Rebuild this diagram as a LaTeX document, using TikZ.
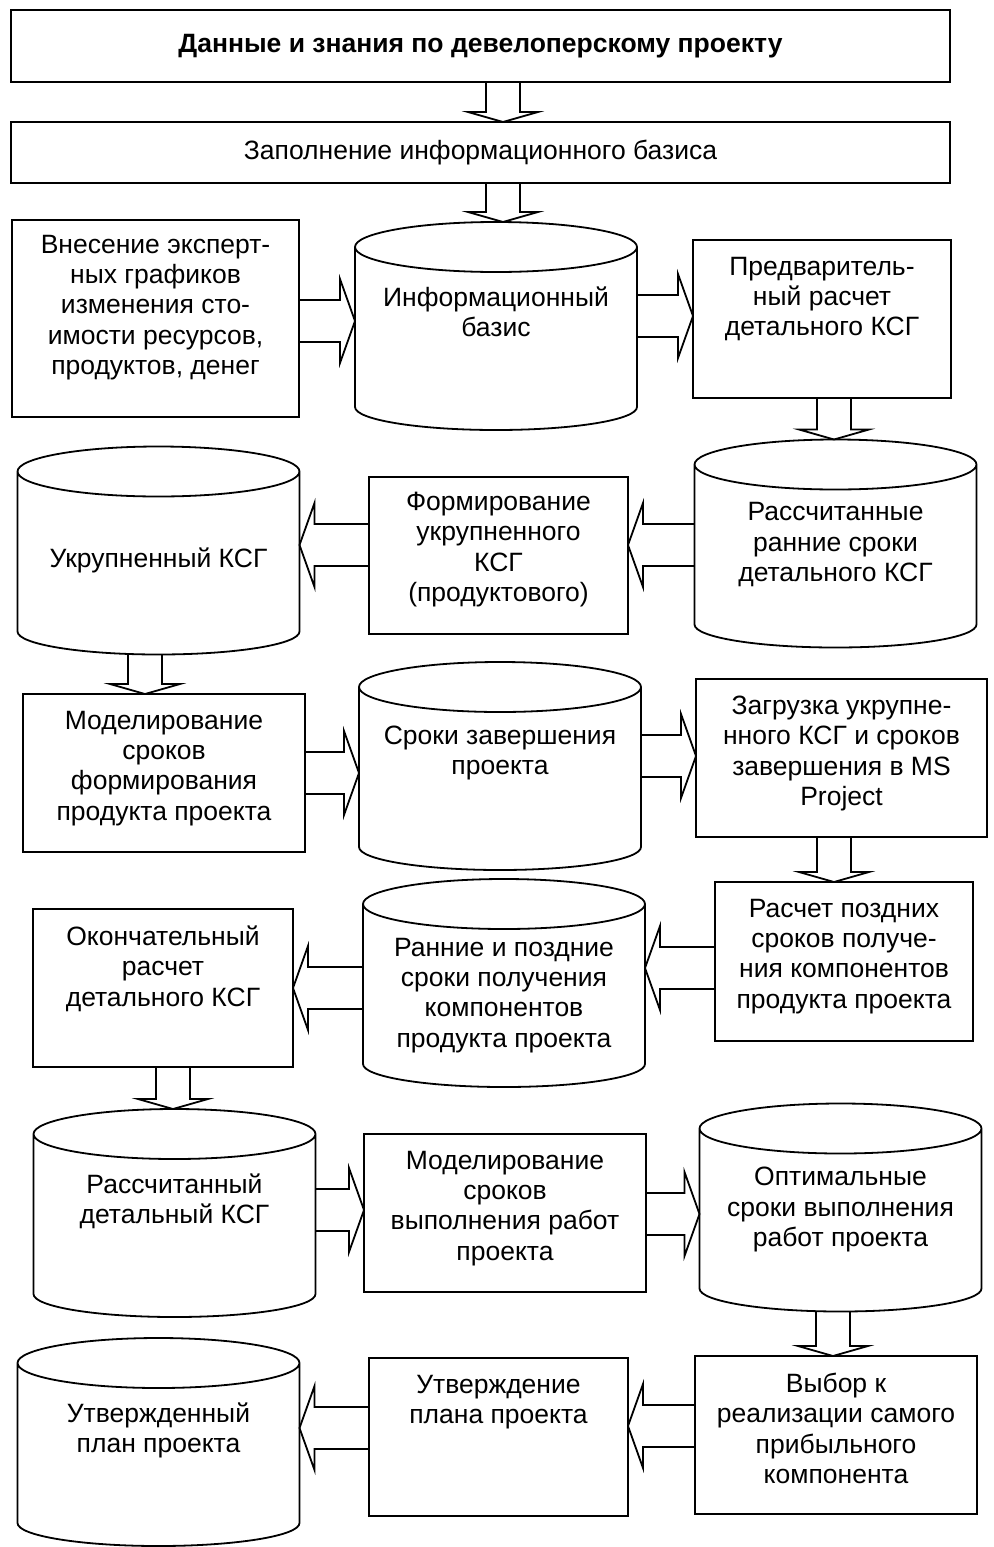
\documentclass[tikz,border=0pt]{standalone}
\usepackage{fontspec}
\setmainfont{Liberation Sans}
\usetikzlibrary{positioning,calc}

\begin{document}
\begin{tikzpicture}[x=0.5pt,y=-0.5pt,line width=0.9pt,
  every node/.style={font=\fontsize{13.25pt}{15.2pt}\selectfont},
  box/.style={draw,inner sep=0pt,outer sep=0pt},
  store/.style={inner sep=0pt,outer sep=0pt,minimum width=141pt,minimum height=104pt},
  txt/.style={align=center,inner sep=0pt},
  fat/.style n args={3}{to path={let \p1=(\tikztostart), \p2=(\tikztotarget),
    \p3=($(\p2)!#3!(\p1)$) in
    ($(\p1)!#1!90:(\p2)$) -- ($(\p3)!#1!-90:(\p1)$) -- ($(\p3)!#2!-90:(\p1)$) -- (\p2)
    -- ($(\p3)!#2!90:(\p1)$) -- ($(\p3)!#1!90:(\p1)$) -- ($(\p1)!#1!-90:(\p2)$)}},
  harr/.style={draw,fat={10.5pt}{21pt}{7.5pt}},
  varr/.style={draw,fat={8.5pt}{17.5pt}{5pt}}]
\useasboundingbox (0,0) rectangle (993,1547);

% boxes
\node[box,minimum width=469.5pt,minimum height=36pt] (b1) at (480.5,46) {\textbf{Данные и знания по девелоперскому проекту}};
\node[box,minimum width=469.5pt,minimum height=30.5pt] (b2) at (480.5,152.5) {Заполнение информационного базиса};
\node[box,minimum width=143.5pt,minimum height=98.5pt] (b3) at (155.5,318.5) {};
\node[box,minimum width=129pt,minimum height=79pt] (b4) at (822,319) {};
\node[box,minimum width=129.5pt,minimum height=78.5pt] (b5) at (498.5,555.5) {};
\node[box,minimum width=141pt,minimum height=79pt] (b6) at (164,773) {};
\node[box,minimum width=145.5pt,minimum height=79pt] (b7) at (841.5,758) {};
\node[box,minimum width=130pt,minimum height=79pt] (b8) at (163,988) {};
\node[box,minimum width=129pt,minimum height=79.5pt] (b9) at (844,961.5) {};
\node[box,minimum width=141pt,minimum height=79pt] (b10) at (505,1213) {};
\node[box,minimum width=141pt,minimum height=79pt] (b11) at (836,1435) {};
\node[box,minimum width=129.5pt,minimum height=79pt] (b12) at (498.5,1437) {};

% stores
\node[store] (c1) at (496,326) {};
\node[store] (c2) at (835.5,543.5) {};
\node[store] (c3) at (158.5,550.5) {};
\node[store] (c4) at (500,766) {};
\node[store] (c5) at (504,983) {};
\node[store] (c6) at (174.5,1213) {};
\node[store] (c7) at (840.5,1207.5) {};
\node[store] (c8) at (158.5,1442) {};
\foreach \i in {1,...,8}
{
\draw ($(c\i.north west)+(0,-12.5pt)$) -- ($(c\i.south west)+(0,11.5pt)$)
  arc[start angle=180,end angle=360,x radius=70.5pt,y radius=11.5pt]
  -- ($(c\i.north east)+(0,-12.5pt)$)
  arc[start angle=0,end angle=360,x radius=70.5pt,y radius=12.5pt];
}

% texts
\node[txt,below=7pt of b3.north] (t3) {Внесение эксперт-\\ных графиков\\изменения сто-\\имости ресурсов,\\продуктов, денег};
\node[txt,below=8pt of b4.north] (t4) {Предваритель-\\ный расчет\\детального КСГ};
\node[txt,below=7pt of b5.north] (t5) {Формирование\\укрупненного\\КСГ\\(продуктового)};
\node[txt,below=8pt of b6.north] (t6) {Моделирование\\сроков\\формирования\\продукта проекта};
\node[txt,below=8pt of b7.north] (t7) {Загрузка укрупне-\\нного КСГ и сроков\\завершения в MS\\Project};
\node[txt,below=8pt of b8.north] (t8) {Окончательный\\расчет\\детального КСГ};
\node[txt,below=8pt of b9.north] (t9) {Расчет поздних\\сроков получе-\\ния компонентов\\продукта проекта};
\node[txt,below=8pt of b10.north] (t10) {Моделирование\\сроков\\выполнения работ\\проекта};
\node[txt,below=8pt of b11.north] (t11) {Выбор к\\реализации самого\\прибыльного\\компонента};
\node[txt,below=8pt of b12.north] (t12) {Утверждение\\плана проекта};
\node[txt,below=32pt of c1.north] (s1) {Информационный\\базис};
\node[txt,below=31pt of c2.north] (s2) {Рассчитанные\\ранние сроки\\детального КСГ};
\node[txt,below=50pt of c3.north] (s3) {Укрупненный КСГ};
\node[txt,below=31.5pt of c4.north] (s4) {Сроки завершения\\проекта};
\node[txt,below=29pt of c5.north] (s5) {Ранние и поздние\\сроки получения\\компонентов\\продукта проекта};
\node[txt,below=32pt of c6.north] (s6) {Рассчитанный\\детальный КСГ};
\node[txt,below=31.5pt of c7.north] (s7) {Оптимальные\\сроки выполнения\\работ проекта};
\node[txt,below=32pt of c8.north] (s8) {Утвержденный\\план проекта};

% arrows
\draw[varr] (b1.south -| 503,0) to (b2.north -| 503,0);
\draw[varr] (b2.south -| 503,0) to (c1.north -| 503,0);
\draw[harr] (b3.east |- 0,321) to (c1.west |- 0,321);
\draw[harr] (c1.east |- 0,316) to (b4.west |- 0,316);
\draw[varr] (b4.south -| 834,0) to (c2.north -| 834,0);
\draw[harr] (c2.west |- 0,545) to (b5.east |- 0,545);
\draw[harr] (b5.west |- 0,545) to (c3.east |- 0,545);
\draw[varr] (c3.south -| 145,0) to (b6.north -| 145,0);
\draw[harr] (b6.east |- 0,773) to (c4.west |- 0,773);
\draw[harr] (c4.east |- 0,756) to (b7.west |- 0,756);
\draw[varr] (b7.south -| 834,0) to (b9.north -| 834,0);
\draw[harr] (b9.west |- 0,968) to (c5.east |- 0,968);
\draw[harr] (c5.west |- 0,988) to (b8.east |- 0,988);
\draw[varr] (b8.south -| 173,0) to (c6.north -| 173,0);
\draw[harr] (c6.east |- 0,1210) to (b10.west |- 0,1210);
\draw[harr] (b10.east |- 0,1214) to (c7.west |- 0,1214);
\draw[varr] (c7.south -| 833,0) to (b11.north -| 833,0);
\draw[harr] (b11.west |- 0,1426) to (b12.east |- 0,1426);
\draw[harr] (b12.west |- 0,1428) to (c8.east |- 0,1428);
\end{tikzpicture}
\end{document}
